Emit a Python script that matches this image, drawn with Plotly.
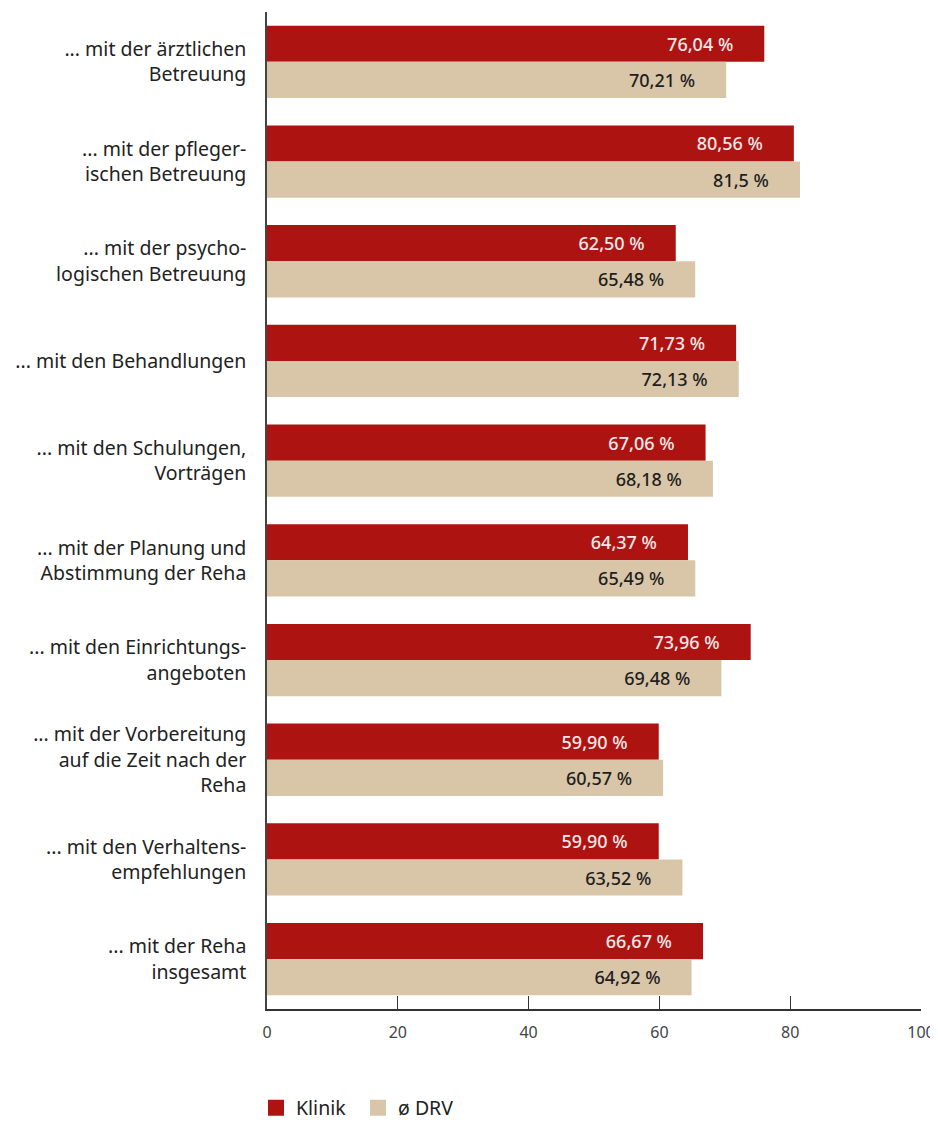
import plotly.graph_objects as go

categories = [
    "... mit der ärztlichen<br>Betreuung",
    "... mit der pfleger-<br>ischen Betreuung",
    "... mit der psycho-<br>logischen Betreuung",
    "... mit den Behandlungen",
    "... mit den Schulungen,<br>Vorträgen",
    "... mit der Planung und<br>Abstimmung der Reha",
    "... mit den Einrichtungs-<br>angeboten",
    "... mit der Vorbereitung<br>auf die Zeit nach der<br>Reha",
    "... mit den Verhaltens-<br>empfehlungen",
    "... mit der Reha<br>insgesamt",
]
klinik = [76.04, 80.56, 62.50, 71.73, 67.06, 64.37, 73.96, 59.90, 59.90, 66.67]
drv = [70.21, 81.5, 65.48, 72.13, 68.18, 65.49, 69.48, 60.57, 63.52, 64.92]
klinik_labels = ["76,04 %", "80,56 %", "62,50 %", "71,73 %", "67,06 %",
                 "64,37 %", "73,96 %", "59,90 %", "59,90 %", "66,67 %"]
drv_labels = ["70,21 %", "81,5 %", "65,48 %", "72,13 %", "68,18 %",
              "65,49 %", "69,48 %", "60,57 %", "63,52 %", "64,92 %"]
x_ticks = [0, 20, 40, 60, 80, 100]

RED = "#AD1411"
BEIGE = "#D9C6A8"
FONT = "Noto Sans"
PAD = "\u00a0" * 6

fig = go.Figure()
fig.add_trace(go.Bar(
    y=categories, x=klinik, orientation="h", name="Klinik",
    marker=dict(color=RED, line=dict(width=0)),
    text=[t + PAD for t in klinik_labels], textposition="inside",
    insidetextanchor="end",
    textfont=dict(family=FONT, size=18, color="#F7E9E9", weight=500),
    showlegend=False, cliponaxis=False,
))
fig.add_trace(go.Bar(
    y=categories, x=drv, orientation="h", name="ø DRV",
    marker=dict(color=BEIGE, line=dict(width=0)),
    text=[t + PAD for t in drv_labels], textposition="inside",
    insidetextanchor="end",
    textfont=dict(family=FONT, size=18, color="#1E1E1E", weight=500),
    showlegend=False, cliponaxis=False,
))
# legend entries
fig.add_trace(go.Scatter(x=[None], y=[None], mode="markers", name="Klinik",
                         marker=dict(symbol="square", size=21, color=RED)))
fig.add_trace(go.Scatter(x=[None], y=[None], mode="markers", name="ø DRV",
                         marker=dict(symbol="square", size=21, color=BEIGE)))

fig.update_layout(
    width=930, height=1116,
    margin=dict(l=259, r=17, t=4, b=115, autoexpand=False),
    paper_bgcolor="white", plot_bgcolor="white",
    barmode="group", bargap=0.275, bargroupgap=0,
    uniformtext=dict(mode=False),
    font=dict(family=FONT, size=19.5, color="#222222"),
    legend=dict(orientation="h", x=-0.0168, xanchor="left", y=-0.0993,
                yanchor="middle", font=dict(size=19.5, color="#222222"),
                entrywidth=57, entrywidthmode="pixels",
                itemsizing="trace", bgcolor="rgba(0,0,0,0)"),
    xaxis=dict(range=[0, 100], tickvals=x_ticks, ticktext=[str(v) for v in x_ticks],
               ticks="inside", ticklen=13, tickwidth=1, tickcolor="#333333",
               showline=True, linecolor="#333333", linewidth=1.5,
               showgrid=False, zeroline=False, ticklabelstandoff=8,
               automargin=False,
               tickfont=dict(size=16, color="#444444")),
    yaxis=dict(autorange="reversed", showline=True, linecolor="#444444",
               linewidth=1.5, showgrid=False, ticks="", ticklabelstandoff=15,
               automargin=False,
               tickfont=dict(size=19.5, color="#222222")),
)
fig.write_html("out.html")
